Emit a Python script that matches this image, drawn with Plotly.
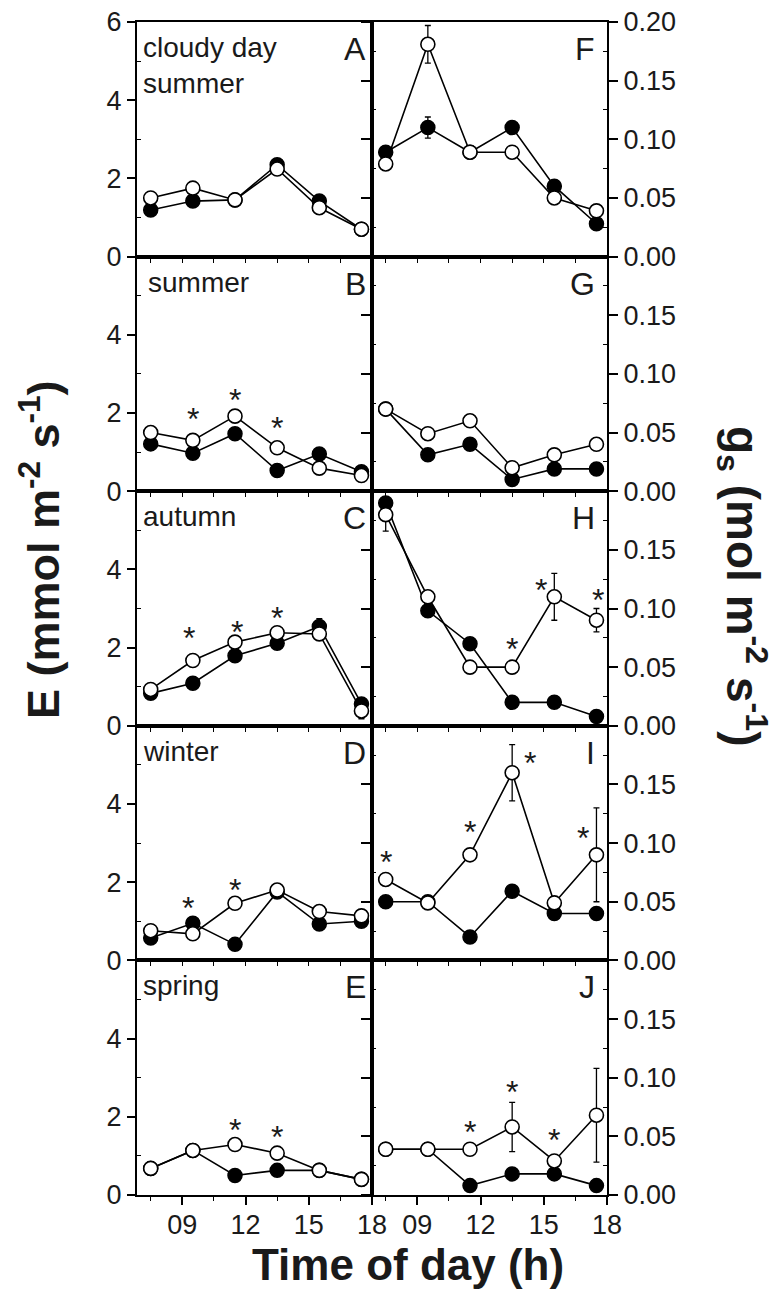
import plotly.graph_objects as go
from plotly.subplots import make_subplots

# ---------------- data ----------------
times = [7.5, 9.5, 11.5, 13.5, 15.5, 17.5]
x_tick_vals = [9, 12, 15, 18]
x_tick_text = ["09", "12", "15", "18"]

season_labels = ["cloudy day<br>summer", "summer", "autumn", "winter", "spring"]
left_letters = ["A", "B", "C", "D", "E"]
right_letters = ["F", "G", "H", "I", "J"]

# Transpiration E (mmol m-2 s-1): closed and open symbols
E_closed_A = [1.19, 1.42, 1.45, 2.35, 1.42, 0.70]
E_open_A = [1.50, 1.75, 1.45, 2.24, 1.25, 0.70]
E_closed_B = [1.21, 0.97, 1.47, 0.53, 0.95, 0.50]
E_open_B = [1.50, 1.30, 1.92, 1.11, 0.59, 0.40]
E_closed_C = [0.83, 1.09, 1.79, 2.11, 2.54, 0.56]
E_open_C = [0.93, 1.67, 2.14, 2.38, 2.35, 0.38]
E_closed_D = [0.57, 0.95, 0.41, 1.75, 0.93, 1.00]
E_open_D = [0.76, 0.68, 1.46, 1.80, 1.25, 1.14]
E_closed_E = [0.68, 1.14, 0.50, 0.63, 0.63, 0.40]
E_open_E = [0.68, 1.14, 1.29, 1.07, 0.63, 0.40]

E_err_closed_A = [0, 0, 0, 0, 0, 0]
E_err_open_A = [0, 0, 0, 0, 0, 0]
E_err_closed_B = [0, 0, 0, 0, 0, 0]
E_err_open_B = [0, 0, 0.10, 0, 0, 0]
E_err_closed_C = [0, 0, 0, 0, 0.20, 0]
E_err_open_C = [0, 0.15, 0, 0, 0, 0.20]
E_err_closed_D = [0, 0, 0, 0, 0, 0]
E_err_open_D = [0, 0, 0, 0, 0, 0]
E_err_closed_E = [0, 0, 0, 0, 0, 0]
E_err_open_E = [0, 0, 0, 0, 0, 0]

# Stomatal conductance gs (mol m-2 s-1)
gs_closed_F = [0.089, 0.110, 0.089, 0.110, 0.060, 0.028]
gs_open_F = [0.079, 0.181, 0.089, 0.089, 0.050, 0.039]
gs_closed_G = [0.070, 0.031, 0.040, 0.010, 0.019, 0.019]
gs_open_G = [0.070, 0.049, 0.060, 0.020, 0.031, 0.040]
gs_closed_H = [0.190, 0.098, 0.070, 0.020, 0.020, 0.008]
gs_open_H = [0.180, 0.110, 0.050, 0.050, 0.110, 0.090]
gs_closed_I = [0.050, 0.050, 0.020, 0.059, 0.040, 0.040]
gs_open_I = [0.069, 0.049, 0.090, 0.160, 0.049, 0.090]
gs_closed_J = [0.039, 0.039, 0.008, 0.018, 0.018, 0.008]
gs_open_J = [0.039, 0.039, 0.039, 0.058, 0.029, 0.068]

gs_err_closed_F = [0, 0.009, 0, 0, 0, 0]
gs_err_open_F = [0, 0.016, 0.003, 0, 0, 0]
gs_err_closed_G = [0, 0, 0.004, 0, 0, 0]
gs_err_open_G = [0, 0.004, 0.003, 0, 0, 0]
gs_err_closed_H = [0, 0, 0, 0, 0, 0]
gs_err_open_H = [0.014, 0.004, 0.004, 0.004, 0.020, 0.010]
gs_err_closed_I = [0, 0, 0, 0, 0, 0]
gs_err_open_I = [0, 0.003, 0, 0.024, 0, 0.040]
gs_err_closed_J = [0, 0, 0, 0, 0, 0]
gs_err_open_J = [0, 0, 0, 0.021, 0, 0.040]

# significance stars: index of time point per panel
stars_A = []
stars_B = [1, 2, 3]
stars_C = [1, 2, 3]
stars_D = [1, 2]
stars_E = [2, 3]
stars_F = []
stars_G = []
stars_H = [3, 4, 5]
stars_I = [0, 2, 3, 5]
stars_J = [2, 3, 4]

left_panels = [
    (E_closed_A, E_open_A, E_err_closed_A, E_err_open_A, stars_A),
    (E_closed_B, E_open_B, E_err_closed_B, E_err_open_B, stars_B),
    (E_closed_C, E_open_C, E_err_closed_C, E_err_open_C, stars_C),
    (E_closed_D, E_open_D, E_err_closed_D, E_err_open_D, stars_D),
    (E_closed_E, E_open_E, E_err_closed_E, E_err_open_E, stars_E),
]
right_panels = [
    (gs_closed_F, gs_open_F, gs_err_closed_F, gs_err_open_F, stars_F),
    (gs_closed_G, gs_open_G, gs_err_closed_G, gs_err_open_G, stars_G),
    (gs_closed_H, gs_open_H, gs_err_closed_H, gs_err_open_H, stars_H),
    (gs_closed_I, gs_open_I, gs_err_closed_I, gs_err_open_I, stars_I),
    (gs_closed_J, gs_open_J, gs_err_closed_J, gs_err_open_J, stars_J),
]

# ---------------- style ----------------
FONT = "Liberation Sans, Arial, Helvetica, sans-serif"
TXT = "#1a1a1a"
TICK_SIZE = 27
PAGE_OFF = 8                      # default body margin of the html page
W, H = 777 - PAGE_OFF, 1297 - PAGE_OFF
PX_L, PX_R, PX_T, PX_B = 137, 607, 22, 1195   # plot area in page pixels
ML, MT = PX_L - PAGE_OFF, PX_T - PAGE_OFF
MR = W - (PX_R - PAGE_OFF)
MB = H - (PX_B - PAGE_OFF)
PW, PH = PX_R - PX_L, PX_B - PX_T


def px_to_paper(px, py):
    return (px - PX_L) / PW, (PX_B - py) / PH


# star offsets in pixels (dx, dy above the open symbol), per panel/star
star_offsets = {
    "B": [(0, 28), (0, 23), (0, 27)],
    "C": [(-4, 29), (2, 17), (0, 22)],
    "D": [(-5, 33), (0, 20)],
    "E": [(0, 22), (0, 23)],
    "H": [(0, 25), (-13, 14), (2, 27)],
    "I": [(0, 24), (0, 30), (18, 17), (-13, 24)],
    "J": [(0, 24), (0, 42), (0, 28)],
}

fig = make_subplots(rows=5, cols=2, horizontal_spacing=0, vertical_spacing=0)


def add_panel(row, col, closed, opened, err_c, err_o):
    fig.add_trace(go.Scatter(
        x=times, y=closed, mode="lines+markers",
        line=dict(color="black", width=1.6),
        marker=dict(symbol="circle", size=14, color="black",
                    line=dict(color="black", width=1.5)),
        error_y=dict(type="data", array=err_c, visible=True,
                     color="black", thickness=1.3, width=3),
        showlegend=False, hoverinfo="skip"), row=row, col=col)
    fig.add_trace(go.Scatter(
        x=times, y=opened, mode="lines+markers",
        line=dict(color="black", width=1.6),
        marker=dict(symbol="circle", size=14, color="white",
                    line=dict(color="black", width=1.6)),
        error_y=dict(type="data", array=err_o, visible=True,
                     color="black", thickness=1.3, width=3),
        showlegend=False, hoverinfo="skip"), row=row, col=col)


annotations = []
for i in range(5):
    r = i + 1
    for col, panels, letter_list in ((1, left_panels, left_letters),
                                     (2, right_panels, right_letters)):
        closed, opened, err_c, err_o, stars = panels[i]
        add_panel(r, col, closed, opened, err_c, err_o)
        n = (r - 1) * 2 + col
        xref = "x" if n == 1 else f"x{n}"
        yref = "y" if n == 1 else f"y{n}"
        letter = letter_list[i]
        # panel letter
        annotations.append(dict(
            text=letter, xref=f"{xref} domain", yref=f"{yref} domain",
            x=1, y=1, xanchor="right", yanchor="top",
            xshift=-4 if col == 1 else -10, yshift=-7,
            showarrow=False, font=dict(family=FONT, size=32, color=TXT)))
        # stars
        offs = star_offsets.get(letter, [])
        for k, idx in enumerate(stars):
            dx, dy = offs[k]
            annotations.append(dict(
                text="*", xref=xref, yref=yref, x=times[idx], y=opened[idx],
                xanchor="center", yanchor="middle", xshift=dx, yshift=dy - 7,
                showarrow=False, font=dict(family=FONT, size=32, color=TXT)))
    # season label
    n = (r - 1) * 2 + 1
    annotations.append(dict(
        text=season_labels[i], xref=("x" if n == 1 else f"x{n}") + " domain",
        yref=("y" if n == 1 else f"y{n}") + " domain",
        x=0, y=1, xanchor="left", yanchor="top", align="left",
        xshift=4 if i != 1 else 9, yshift=-8,
        showarrow=False, font=dict(family=FONT, size=28, color=TXT)))

# axis titles
lx, ly = px_to_paper(40, 550)
annotations.append(dict(
    text="<b>E (mmol m<sup>-2</sup> s<sup>-1</sup>)</b>", xref="paper", yref="paper",
    x=lx, y=ly, xanchor="center", yanchor="middle", textangle=-90,
    showarrow=False, font=dict(family=FONT, size=45, color=TXT)))
rx, ry = px_to_paper(742, 586)
annotations.append(dict(
    text="<b>g<sub>s</sub> (mol m<sup>-2</sup> s<sup>-1</sup>)</b>", xref="paper", yref="paper",
    x=rx, y=ry, xanchor="center", yanchor="middle", textangle=90,
    showarrow=False, font=dict(family=FONT, size=46, color=TXT)))
tx, ty = px_to_paper(408, 1264)
annotations.append(dict(
    text="<b>Time of day (h)</b>", xref="paper", yref="paper",
    x=tx, y=ty, xanchor="center", yanchor="middle",
    showarrow=False, font=dict(family=FONT, size=44, color=TXT)))

fig.update_layout(
    width=W, height=H, margin=dict(l=ML, r=MR, t=MT, b=MB, autoexpand=False),
    plot_bgcolor="white", paper_bgcolor="white",
    annotations=annotations, showlegend=False,
    font=dict(family=FONT, size=TICK_SIZE, color=TXT),
)

for i in range(5):
    r = i + 1
    bottom = r == 5
    for col in (1, 2):
        xa = dict(range=[6.85, 18], showgrid=False, zeroline=False, automargin=False,
                  showline=True, linecolor="black", linewidth=2, mirror=True)
        if bottom:
            xa.update(tickmode="array", tickvals=x_tick_vals, ticktext=x_tick_text,
                      ticks="outside", ticklen=8, tickwidth=1.5, tickcolor="black",
                      showticklabels=True, ticklabelstandoff=-3,
                      ticklabeloverflow="allow",
                      tickfont=dict(family=FONT, size=TICK_SIZE, color=TXT),
                      minor=dict(tickmode="linear", tick0=7.5, dtick=1.5,
                                 ticks="outside", ticklen=4, tickwidth=1.2,
                                 tickcolor="black"))
        else:
            xa.update(tickmode="linear", tick0=7.5, dtick=1.5, ticks="outside",
                      ticklen=4, tickwidth=1.2, tickcolor="black",
                      showticklabels=False)
        fig.update_xaxes(row=r, col=col, **xa)

    # left y axis
    lv = [0, 2, 4, 6] if r == 1 else [0, 2, 4]
    fig.update_yaxes(row=r, col=1, range=[0, 6], tickmode="array", tickvals=lv,
                     ticktext=[str(v) for v in lv], ticks="outside", ticklen=8,
                     tickwidth=1.5, tickcolor="black", showgrid=False, zeroline=False,
                     showline=True, linecolor="black", linewidth=2, mirror=True,
                     automargin=False, ticklabeloverflow="allow",
                     tickfont=dict(family=FONT, size=TICK_SIZE, color=TXT),
                     minor=dict(tickmode="linear", tick0=1, dtick=2, ticks="inside",
                                ticklen=4, tickwidth=1.2, tickcolor="black"))
    rv = [0, 0.05, 0.10, 0.15, 0.20] if r == 1 else [0, 0.05, 0.10, 0.15]
    fig.update_yaxes(row=r, col=2, range=[0, 0.2], side="right", tickmode="array",
                     tickvals=rv, ticktext=[f"{v:.2f}" for v in rv], ticks="outside",
                     ticklen=9, tickwidth=1.5, tickcolor="black", showgrid=False,
                     zeroline=False, showline=True, linecolor="black", linewidth=2,
                     mirror="ticks", automargin=False, ticklabeloverflow="allow",
                     tickfont=dict(family=FONT, size=TICK_SIZE, color=TXT),
                     minor=dict(tickmode="linear", tick0=0.025, dtick=0.05,
                                ticks="inside", ticklen=4, tickwidth=1.2,
                                tickcolor="black"))

fig.write_html("out.html")
